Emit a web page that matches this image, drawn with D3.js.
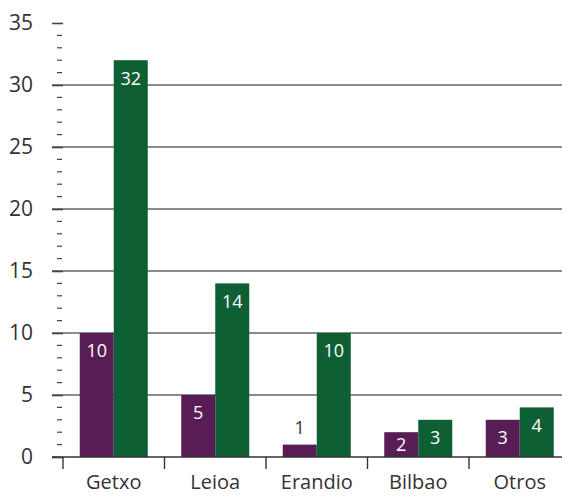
<!DOCTYPE html>
<html>
<head>
<meta charset="utf-8">
<script src="https://cdn.jsdelivr.net/npm/d3@7"></script>
<style>
  body { margin: 0; background: #fff; }
  svg { display: block; font-family: "Open Sans", sans-serif; }
</style>
</head>
<body>
<div id="chart"></div>
<script>
const categories = ['Getxo', 'Leioa', 'Erandio', 'Bilbao', 'Otros'];
const serie1 = [10, 5, 1, 2, 3];
const serie2 = [32, 14, 10, 3, 4];
const yTicks = [0, 5, 10, 15, 20, 25, 30, 35];

const width = 562, height = 496;
const purple = '#591d55', green = '#0e5f33', textColor = '#333';
const barW = 34;

const svg = d3.select('#chart')
  .append('svg')
    .attr('width', width)
    .attr('height', height);

const y = d3.scaleLinear().domain([0, 35]).range([457, 23]);
const x = d3.scaleBand().domain(categories).range([63, 570.5]).padding(0);

// gridlines
svg.append('g')
  .selectAll('line')
  .data(yTicks.filter(d => d > 0 && d < 35))
  .enter()
    .append('line')
      .attr('x1', 52).attr('x2', width)
      .attr('y1', d => y(d)).attr('y2', d => y(d))
      .attr('stroke', '#666')
      .attr('stroke-width', 1.4);

// minor ticks
svg.append('g')
  .selectAll('line')
  .data(d3.range(0, 36).filter(d => d % 5 !== 0))
  .enter()
    .append('line')
      .attr('x1', 57).attr('x2', 62)
      .attr('y1', d => y(d)).attr('y2', d => y(d))
      .attr('stroke', '#444')
      .attr('stroke-width', 1.2);

// y axis (major ticks + labels)
const yAxis = d3.axisLeft(y).tickValues(yTicks).tickSize(11).tickPadding(19);
const gy = svg.append('g')
  .attr('transform', 'translate(63,0)')
  .call(yAxis);
gy.select('.domain').remove();
gy.selectAll('.tick line').attr('stroke', '#444').attr('stroke-width', 1.6);
gy.selectAll('.tick text')
  .attr('fill', textColor)
  .style('font-size', '21px')
  .style('font-family', '"Open Sans", sans-serif');

// bars
const groups = svg.append('g')
  .selectAll('g')
  .data(categories)
  .enter()
    .append('g');

groups.append('rect')
  .attr('x', d => x(d) + x.bandwidth() / 2 - barW)
  .attr('y', (d, i) => y(serie1[i]))
  .attr('width', barW)
  .attr('height', (d, i) => y(0) - y(serie1[i]))
  .attr('fill', purple);

groups.append('rect')
  .attr('x', d => x(d) + x.bandwidth() / 2)
  .attr('y', (d, i) => y(serie2[i]))
  .attr('width', barW)
  .attr('height', (d, i) => y(0) - y(serie2[i]))
  .attr('fill', green);

// x axis
const xAxis = d3.axisBottom(x).tickSize(0).tickPadding(18);
const gx = svg.append('g')
  .attr('transform', `translate(0,${y(0)})`)
  .call(xAxis);
gx.select('.domain').remove();
gx.selectAll('.tick text')
  .attr('fill', textColor)
  .style('font-size', '20px')
  .style('font-family', '"Open Sans", sans-serif');

svg.append('line')
  .attr('x1', 52).attr('x2', width)
  .attr('y1', y(0)).attr('y2', y(0))
  .attr('stroke', '#333')
  .attr('stroke-width', 1.6);

// category separators
svg.append('g')
  .selectAll('line')
  .data(categories)
  .enter()
    .append('line')
      .attr('x1', d => x(d)).attr('x2', d => x(d))
      .attr('y1', y(0)).attr('y2', y(0) + 12)
      .attr('stroke', '#333')
      .attr('stroke-width', 1.4);

// value labels
const labelY = v => {
  const top = y(v), bottom = y(0);
  if (bottom - top < 20) return top - 17;
  return Math.min(top + 18, (top + bottom) / 2);
};

const addLabels = (values, offset) => {
  svg.append('g')
    .selectAll('text')
    .data(categories)
    .enter()
      .append('text')
        .attr('x', (d, i) => x(d) + x.bandwidth() / 2 + offset)
        .attr('y', (d, i) => labelY(values[i]))
        .attr('dy', '0.35em')
        .attr('text-anchor', 'middle')
        .attr('fill', (d, i) => (y(0) - y(values[i]) < 20 ? textColor : '#fff'))
        .style('font-size', '18px')
        .text((d, i) => values[i]);
};
addLabels(serie1, -barW / 2);
addLabels(serie2, barW / 2);
</script>
</body>
</html>
